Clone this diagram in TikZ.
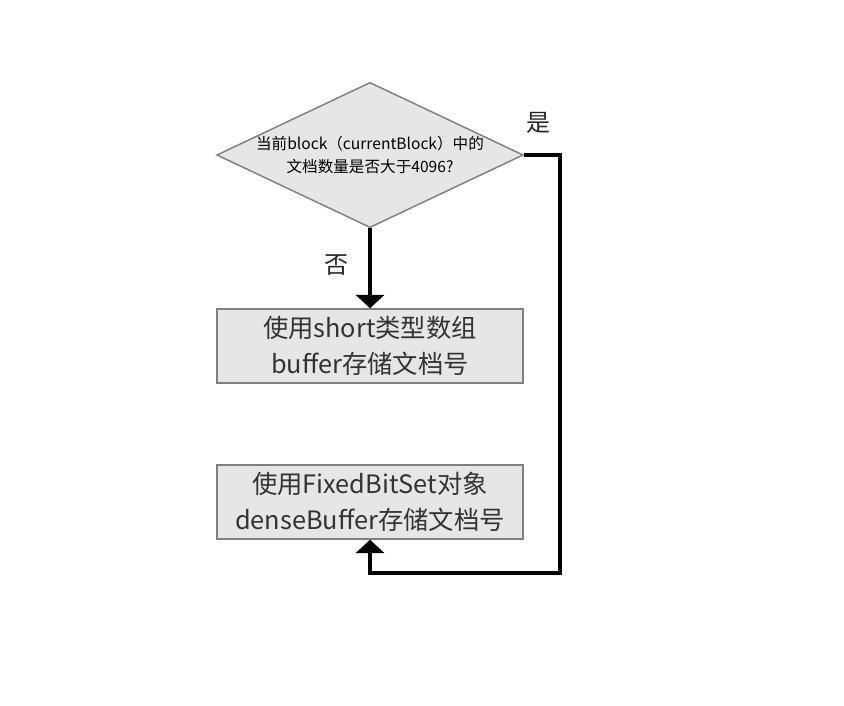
\documentclass[tikz,border=0pt]{standalone}
\usepackage{fontspec}
\setmainfont{Noto Sans CJK SC}
\usetikzlibrary{shapes.geometric,arrows.meta}
\definecolor{boxfill}{HTML}{E6E6E6}
\definecolor{boxline}{HTML}{808080}
\tikzset{
  dec/.style={diamond, draw=boxline, fill=boxfill, line width=1.1pt, minimum width=228pt, minimum height=108pt, inner sep=0pt, aspect=2.11, align=center, font=\fontsize{11.7}{17}\selectfont},
  proc/.style={rectangle, draw=boxline, fill=boxfill, line width=1.1pt, minimum width=229.5pt, minimum height=55.5pt, inner sep=0pt, align=center, font=\fontsize{19}{27}\selectfont, text=black!80},
  conn/.style={line width=3pt, -{Triangle[width=21pt,length=10pt]}},
  lbl/.style={font=\fontsize{18}{20}\selectfont, text=black!85}
}
\begin{document}
\begin{tikzpicture}[x=0.75pt,y=-0.75pt]
\useasboundingbox (0,0) rectangle (844,706);
\node[dec] (d) at (370,155) {当前block（currentBlock）中的\\文档数量是否大于4096?};
\node[proc] (b1) at (370,346) {使用short类型数组\\buffer存储文档号};
\node[proc] (b2) at (370,502) {使用FixedBitSet对象\\denseBuffer存储文档号};
\coordinate (c1) at (560,155);
\coordinate (c2) at (560,573);
\coordinate (c3) at (370,573);
\draw[conn] (d.south) -- (b1.north);
\draw[conn] (d.east) -- (c1) -- (c2) -- (c3) -- (b2.south);
\node[lbl] (yes) at (538,123) {是};
\node[lbl] (no) at (336,265) {否};
\end{tikzpicture}
\end{document}
